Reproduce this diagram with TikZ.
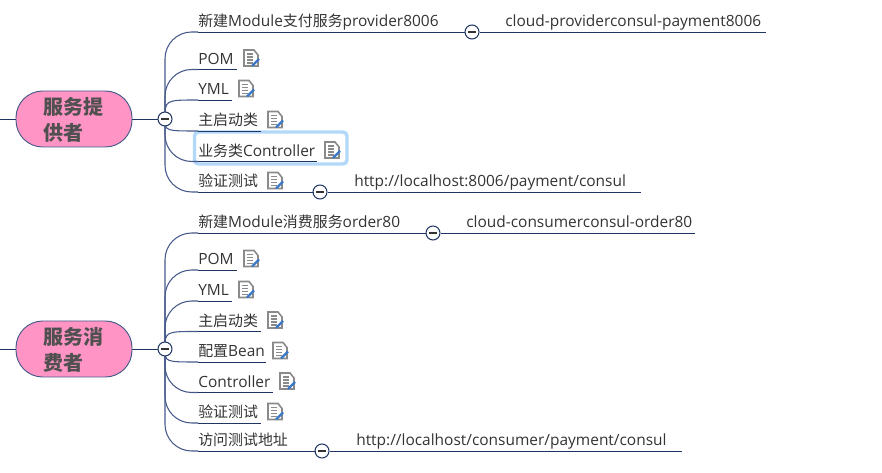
\documentclass[tikz,border=0pt]{standalone}
\usepackage{fontspec}
\setmainfont[Scale=1.035]{Open Sans}
\newfontfamily\cjk{Noto Sans CJK SC}
\usepackage{xcolor}
\usetikzlibrary{calc}

\definecolor{linenavy}{HTML}{1F3564}
\definecolor{curveblue}{HTML}{45598A}
\definecolor{topicpink}{HTML}{FF94C5}
\definecolor{selectblue}{HTML}{B3D7F8}
\definecolor{labelgray}{HTML}{333333}
\definecolor{topicgray}{HTML}{505050}
\definecolor{iconblue}{HTML}{3B78C8}
\definecolor{icongray}{HTML}{8A8A8A}

\tikzset{
    topic/.style={draw=curveblue, line width=0.7pt, fill=topicpink, rounded corners=20pt, minimum width=87pt, minimum height=42pt, inner sep=0pt},
    topiclabel/.style={anchor=west, inner sep=0pt, text=topicgray, align=left, font=\fontsize{15pt}{19.5pt}\selectfont\cjk\bfseries},
    leaf/.style={anchor=south west, inner xsep=0pt, inner ysep=1.1pt, text height=8.5pt, text depth=2.5pt, text=labelgray, font=\fontsize{11.2pt}{13pt}\selectfont},
    collapse/.style={circle, draw=linenavy, line width=0.8pt, fill=white, minimum size=10.5pt, inner sep=0pt,
        path picture={\draw[labelgray, line width=0.8pt] ($(path picture bounding box.center)+(-2.8pt,0)$) -- ++(5.6pt,0);}},
    branch/.style={draw=curveblue, line width=0.8pt, rounded corners=20pt},
    underline/.style={draw=linenavy, line width=0.7pt},
    noteicon/.pic={
        \fill[white] (-7,-8) -- (3,-8) -- (7,-3) -- (7,8) -- (-7,8) -- cycle;
        \draw[icongray, line width=1.2pt] (-7,-8) -- (3,-8) -- (7,-3) -- (7,8) -- (-7,8) -- cycle;
        \foreach \ly in {-4,-1,2,5}
            \draw[icongray, line width=1.1pt] (-4,\ly) -- (2,\ly);
        \draw[iconblue, line width=1.8pt] (1,8) -- (8,1);
    }
}

\begin{document}
\begin{tikzpicture}[x=0.75pt, y=-0.75pt]
    \useasboundingbox (0,0) rectangle (882,473);

    % Selection frame
    \draw[selectblue, line width=2.6pt, fill=white, rounded corners=3pt] (194.5,132) rectangle (347,164);

    % Upper topic
    \node[topic] (provider) at (74,119) {};
    \node[topiclabel] (providertext) at (43,120) {服务提\\供者};
    \coordinate (providerstub) at (0,119);
    \draw[underline] (providerstub) -- (provider.west);
    \coordinate (providerfold) at (165,119);
    \draw[underline] (provider.east) -- (providerfold);

    % Upper leaves: name/y/end of underline/x of icon/near the button/text
    \foreach \name/\ypos/\xend/\xicon/\near/\txt in {
        pa/32/465/0/0/{{\cjk 新建}Module{\cjk 支付服务}provider8006},
        pb/69.5/236/251/0/POM,
        pc/100/231/246/1/YML,
        pd/131/260/275/1/{\cjk 主启动类},
        pe/161.5/316/332/0/{{\cjk 业务类}Controller},
        pf/192/313/275/0/{\cjk 验证测试}}
    {
        \node[leaf, text width={(\xend-198)*0.75pt}] (\name) at (198,\ypos) {\txt};
        \ifnum\near=1
            \draw[branch] (providerfold) .. controls (providerfold |- \name.south west) .. (\name.south west);
        \else
            \draw[branch] (providerfold) |- (\name.south west);
        \fi
        \draw[underline] (\name.south west) -- (\name.south east);
        \ifnum\xicon>0 \pic at (\xicon,\ypos-11.5) {noteicon}; \fi
    }

    % Lower topic
    \node[topic] (consumer) at (74,349) {};
    \node[topiclabel] (consumertext) at (43,350) {服务消\\费者};
    \coordinate (consumerstub) at (0,349);
    \draw[underline] (consumerstub) -- (consumer.west);
    \coordinate (consumerfold) at (165,349);
    \draw[underline] (consumer.east) -- (consumerfold);

    % Lower leaves
    \foreach \name/\ypos/\xend/\xicon/\near/\txt in {
        ca/233/426/0/0/{{\cjk 新建}Module{\cjk 消费服务}order80},
        cb/270/236/251/0/POM,
        cc/301/231/246/0/YML,
        cd/331.5/260/275/1/{\cjk 主启动类},
        ce/362/265/280/1/{{\cjk 配置}Bean},
        cf/392.5/272/287/0/Controller,
        cg/423/260/275/0/{\cjk 验证测试},
        ch/451/315/0/0/{\cjk 访问测试地址}}
    {
        \node[leaf, text width={(\xend-198)*0.75pt}] (\name) at (198,\ypos) {\txt};
        \ifnum\near=1
            \draw[branch] (consumerfold) .. controls (consumerfold |- \name.south west) .. (\name.south west);
        \else
            \draw[branch] (consumerfold) |- (\name.south west);
        \fi
        \draw[underline] (\name.south west) -- (\name.south east);
        \ifnum\xicon>0 \pic at (\xicon,\ypos-11.5) {noteicon}; \fi
    }

    % Second level leaves
    \node[leaf, text width=195pt] (paurl) at (505,32) {cloud-providerconsul-payment8006};
    \node[leaf, text width=214.5pt] (pfurl) at (354,192) {http://localhost:8006/payment/consul};
    \node[leaf, text width=171pt] (caurl) at (466,233) {cloud-consumerconsul-order80};
    \node[leaf, text width=243.75pt] (churl) at (356,451) {http://localhost/consumer/payment/consul};

    % Collapse buttons
    \node[collapse] (providerbtn) at (providerfold) {};
    \node[collapse] (consumerbtn) at (consumerfold) {};
    \node[collapse] (pabtn) at (472,32) {};
    \node[collapse] (pfbtn) at (320,192) {};
    \node[collapse] (cabtn) at (433,233) {};
    \node[collapse] (chbtn) at (322,451) {};

    \draw[underline] (pabtn.east) -- (paurl.south east);
    \draw[underline] (pfbtn.east) -- (pfurl.south east);
    \draw[underline] (cabtn.east) -- (caurl.south east);
    \draw[underline] (chbtn.east) -- (churl.south east);
    \draw[underline] (pf.south east) -- (pfbtn.west);
    \draw[underline] (ch.south east) -- (chbtn.west);
\end{tikzpicture}
\end{document}
